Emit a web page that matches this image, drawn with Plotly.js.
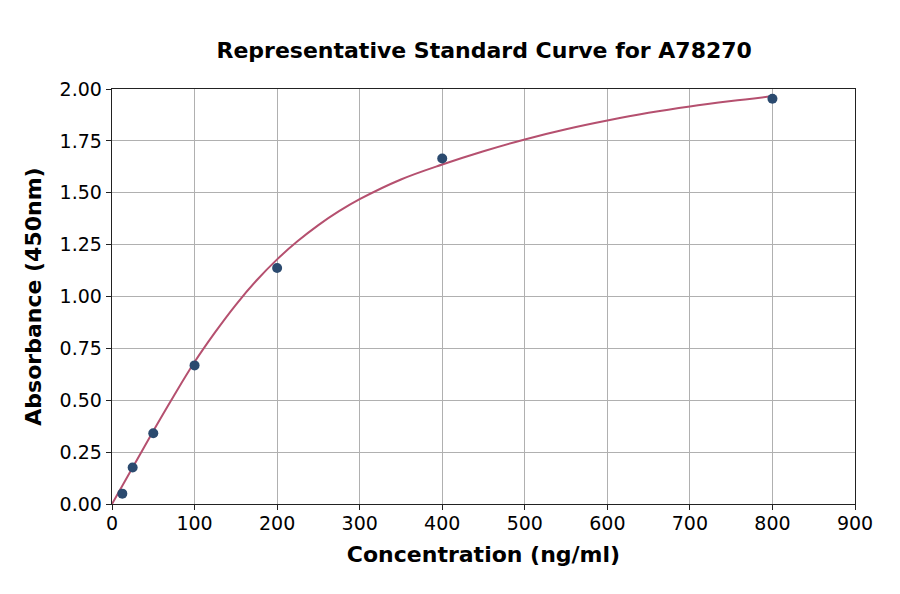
<!DOCTYPE html>
<html>
<head>
<meta charset="utf-8">
<script src="https://cdn.plot.ly/plotly-3.0.1.min.js"></script>
<style>
  html, body { margin: 0; padding: 0; background: #fff; }
  #chart { width: 900px; height: 594px; }
</style>
</head>
<body>
<div id="chart"></div>
<script>
// standard points (concentration in ng/ml, absorbance at 450nm)
var conc = [12.5, 25, 50, 100, 200, 400, 800];
var absorbance = [0.05, 0.176, 0.341, 0.668, 1.137, 1.665, 1.953];

// fitted curve
var curveX = [0, 25, 50, 75, 100, 125, 150, 175, 200, 225, 250, 275, 300,
              350, 400, 450, 500, 550, 600, 650, 700, 750, 800];
var curveY = [0, 0.176, 0.352, 0.522, 0.684, 0.828, 0.960, 1.077, 1.179, 1.267, 1.344, 1.411, 1.469,
              1.564, 1.636, 1.700, 1.757, 1.806, 1.848, 1.885, 1.916, 1.942, 1.965];

var xTicks = [0, 100, 200, 300, 400, 500, 600, 700, 800, 900];
var yTicks = [0, 0.25, 0.5, 0.75, 1.0, 1.25, 1.5, 1.75, 2.0];

var font = "DejaVu Sans, sans-serif";

var traces = [
  {
    x: curveX,
    y: curveY,
    type: "scatter",
    mode: "lines",
    line: { color: "#b5506f", width: 2, shape: "spline", smoothing: 1 },
    hoverinfo: "skip"
  },
  {
    x: conc,
    y: absorbance,
    type: "scatter",
    mode: "markers",
    marker: { color: "#2b4a6f", size: 10 }
  }
];

var axisCommon = {
  showgrid: true,
  gridcolor: "#b0b0b0",
  gridwidth: 1,
  showline: true,
  linecolor: "#222",
  linewidth: 1.3,
  mirror: true,
  ticks: "outside",
  ticklen: 5,
  tickcolor: "#222",
  zeroline: false,
  tickfont: { family: font, size: 19, color: "#000" }
};

var layout = {
  width: 900,
  height: 594,
  margin: { l: 112, r: 45, t: 89, b: 90 },
  paper_bgcolor: "#fff",
  plot_bgcolor: "#fff",
  showlegend: false,
  title: {
    text: "<b>Representative Standard Curve for A78270</b>",
    font: { family: font, size: 22, color: "#000" },
    x: 0.538,
    xanchor: "center",
    y: 0.916,
    yanchor: "middle"
  },
  xaxis: Object.assign({}, axisCommon, {
    range: [0, 900],
    tickvals: xTicks,
    ticktext: xTicks.map(String),
    ticklabelstandoff: -3,
    title: { text: "<b>Concentration (ng/ml)</b>", font: { family: font, size: 22, color: "#000" }, standoff: 13 }
  }),
  yaxis: Object.assign({}, axisCommon, {
    range: [0, 2.0],
    tickvals: yTicks,
    ticktext: yTicks.map(function (v) { return v.toFixed(2); }),
    title: { text: "<b>Absorbance (450nm)</b>", font: { family: font, size: 22, color: "#000" }, standoff: 12 }
  })
};

Plotly.newPlot("chart", traces, layout, { staticPlot: true, displayModeBar: false });
</script>
</body>
</html>
